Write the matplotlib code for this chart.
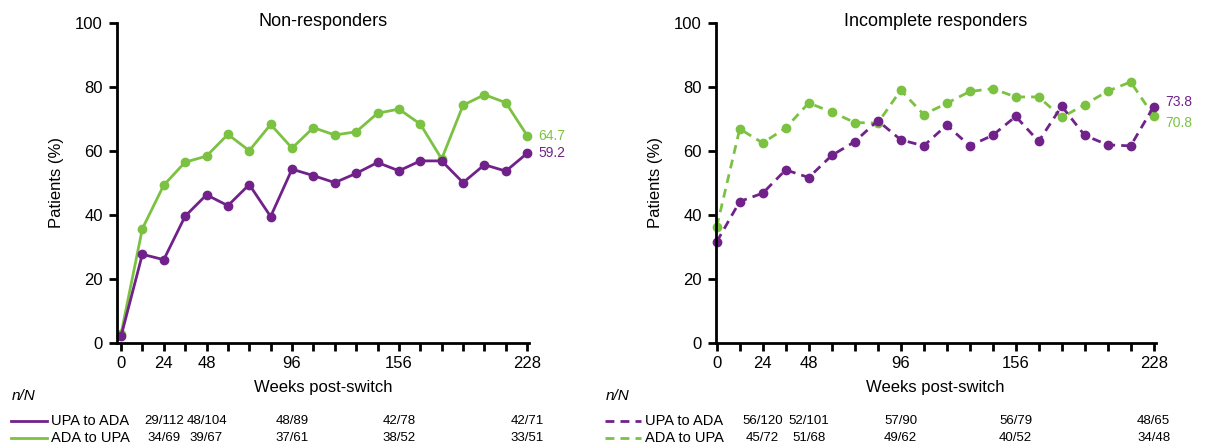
import matplotlib.pyplot as plt
import matplotlib.transforms as mtransforms

plt.rcParams['font.family'] = ['Liberation Sans', 'DejaVu Sans']

# Weeks post-switch (visits every 12 weeks)
weeks = [0, 12, 24, 36, 48, 60, 72, 84, 96, 108, 120, 132, 144, 156, 168, 180, 192, 204, 216, 228]
labeled_weeks = [0, 24, 48, 96, 156, 228]

# Non-responders (% patients)
nr_upa_to_ada = [1.9, 27.6, 25.9, 39.5, 46.2, 42.8, 49.4, 39.4, 54.2, 52.2, 50.0, 52.9, 56.3, 53.7,
                 56.8, 56.8, 50.0, 55.6, 53.6, 59.2]
nr_ada_to_upa = [2.6, 35.6, 49.2, 56.4, 58.3, 65.1, 60.0, 68.2, 60.8, 67.2, 64.9, 65.9, 71.7, 73.0,
                 68.3, 57.4, 74.2, 77.5, 75.0, 64.7]

# Incomplete responders (% patients)
ir_upa_to_ada = [31.5, 44.1, 46.7, 54.0, 51.6, 58.5, 62.8, 69.4, 63.4, 61.5, 68.0, 61.5, 64.8, 70.7,
                 62.9, 73.9, 64.8, 61.8, 61.5, 73.8]
ir_ada_to_upa = [36.2, 66.8, 62.4, 67.1, 74.9, 72.1, 68.8, 68.6, 78.9, 71.3, 74.8, 78.5, 79.4, 76.8,
                 76.8, 70.4, 74.4, 78.6, 81.5, 70.8]

# n/N table under each panel (at weeks 24, 48, 96, 156, 228)
table_weeks = [24, 48, 96, 156, 228]
nr_nN_upa_to_ada = ['29/112', '48/104', '48/89', '42/78', '42/71']
nr_nN_ada_to_upa = ['34/69', '39/67', '37/61', '38/52', '33/51']
ir_nN_upa_to_ada = ['56/120', '52/101', '57/90', '56/79', '48/65']
ir_nN_ada_to_upa = ['45/72', '51/68', '49/62', '40/52', '34/48']

purple = '#71228A'
green = '#7CC242'

fig = plt.figure(figsize=(12.05, 4.46), dpi=100)
ax1 = fig.add_axes([0.097, 0.232, 0.342, 0.717])
ax2 = fig.add_axes([0.594, 0.232, 0.365, 0.717])


def style_axes(ax, title, xmin):
    ax.set_xlim(xmin, 229)
    ax.set_ylim(0, 100)
    ax.spines['top'].set_visible(False)
    ax.spines['right'].set_visible(False)
    ax.spines['left'].set_linewidth(2)
    ax.spines['bottom'].set_linewidth(2)
    ax.set_xticks(weeks)
    ax.set_xticklabels([str(w) if w in labeled_weeks else '' for w in weeks])
    ax.set_yticks([0, 20, 40, 60, 80, 100])
    ax.tick_params(axis='both', direction='out', length=6, width=2, labelsize=12, pad=4)
    ax.set_title(title, fontsize=13, y=0.99, pad=0)
    ax.set_ylabel('Patients (%)', fontsize=12, labelpad=8)
    ax.set_xlabel('Weeks post-switch', fontsize=12, labelpad=6)


ls_solid = '-'
ls_dash = (0, (3.2, 2.2))

ax1.plot(weeks, nr_ada_to_upa, color=green, lw=2, ls=ls_solid, marker='o', ms=6, clip_on=False)
ax1.plot(weeks, nr_upa_to_ada, color=purple, lw=2, ls=ls_solid, marker='o', ms=6, clip_on=False)
style_axes(ax1, 'Non-responders', -2.3)
ax1.annotate(f'{nr_ada_to_upa[-1]:.1f}', (weeks[-1], nr_ada_to_upa[-1]), xytext=(8, 0),
             textcoords='offset points', color=green, fontsize=10, va='center', annotation_clip=False)
ax1.annotate(f'{nr_upa_to_ada[-1]:.1f}', (weeks[-1], nr_upa_to_ada[-1]), xytext=(8, 0),
             textcoords='offset points', color=purple, fontsize=10, va='center', annotation_clip=False)

ax2.plot(weeks, ir_ada_to_upa, color=green, lw=2, ls=ls_dash, marker='o', ms=6, clip_on=False)
ax2.plot(weeks, ir_upa_to_ada, color=purple, lw=2, ls=ls_dash, marker='o', ms=6, clip_on=False)
style_axes(ax2, 'Incomplete responders', -0.5)
ax2.annotate(f'{ir_upa_to_ada[-1]:.1f}', (weeks[-1], ir_upa_to_ada[-1]), xytext=(8, 3),
             textcoords='offset points', color=purple, fontsize=10, va='center', annotation_clip=False)
ax2.annotate(f'{ir_ada_to_upa[-1]:.1f}', (weeks[-1], ir_ada_to_upa[-1]), xytext=(8, -5),
             textcoords='offset points', color=green, fontsize=10, va='center', annotation_clip=False)

# n/N tables below the panels
row_y = [0.056, 0.019]
for ax, x0, ls, rows in [
    (ax1, 0.009, ls_solid, [nr_nN_upa_to_ada, nr_nN_ada_to_upa]),
    (ax2, 0.502, ls_dash, [ir_nN_upa_to_ada, ir_nN_ada_to_upa]),
]:
    fig.text(x0 + 0.001, 0.112, 'n/N', fontsize=11, style='italic', va='center')
    trans = mtransforms.blended_transform_factory(ax.transData, fig.transFigure)
    for y, col, name, vals in zip(row_y, [purple, green], ['UPA to ADA', 'ADA to UPA'], rows):
        fig.add_artist(plt.Line2D([x0, x0 + 0.030], [y, y], color=col, lw=2, ls=ls,
                                  transform=fig.transFigure))
        fig.text(x0 + 0.033, y, name, fontsize=10.5, va='center')
        for w, v in zip(table_weeks, vals):
            fig.text(w, y, v, fontsize=9.5, ha='center', va='center', transform=trans)

fig.savefig('out.png', dpi=100)
